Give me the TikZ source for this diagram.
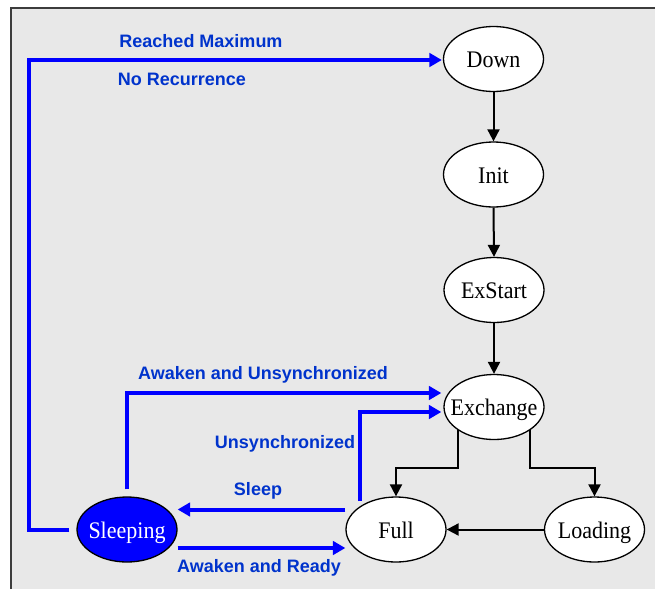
\documentclass[tikz,border=0pt]{standalone}
\usepackage{fontspec}
\setmainfont{Liberation Serif}
\newfontfamily\lblfont{Liberation Sans}
\usetikzlibrary{shapes.geometric,arrows.meta,calc}
\definecolor{bggray}{RGB}{232,232,232}
\definecolor{bordergray}{RGB}{60,60,60}
\definecolor{lblblue}{RGB}{0,51,204}
\newcommand\stname[1]{\makebox[0pt]{\raisebox{-8.5pt}{\scalebox{1}[1.08]{#1}}}}
\tikzset{
  state/.style={ellipse, draw=black, line width=1.3pt, fill=white, inner sep=0pt,
    text height=0pt, text depth=0pt,
    minimum width=100pt, minimum height=65pt, font=\fontsize{22}{24}\selectfont},
  sleepstate/.style={state, fill=blue, text=white},
  blk/.style={draw=black, line width=2pt, -{Triangle[length=12pt,width=12pt]}},
  blu/.style={draw=blue, line width=4pt, -{Triangle[length=12.5pt,width=13.5pt]}},
  lbl/.style={text=lblblue, font=\lblfont\bfseries\fontsize{18}{20}\selectfont, inner sep=0pt}
}
\begin{document}
\begin{tikzpicture}[x=1pt,y=-1pt]
\useasboundingbox (0,0) rectangle (655,589);
\fill[bggray] (11,8) rectangle (655,589);
\draw[bordergray, line width=1.6pt] (11,589) -- (11,8) -- (655,8);

\node[state] (Down) at (493.5,59) {\stname{Down}};
\node[state] (Init) at (493.5,174.5) {\stname{Init}};
\node[state] (ExStart) at (494,290) {\stname{ExStart}};
\node[state] (Exchange) at (494,407) {\stname{Exchange}};
\node[state] (Full) at (396,529.5) {\stname{Full}};
\node[state] (Loading) at (594.5,529.5) {\stname{Loading}};
\node[sleepstate] (Sleeping) at (127,529.5) {\stname{Sleeping}};

% black transitions
\draw[blk] (Down.south) -- (Init.north);
\draw[blk] (Init.south) -- (ExStart.north);
\draw[blk] (ExStart.south) -- (Exchange.north);
\draw[blk] (Exchange.south west) -- ($(Exchange.south west)+(0,37.5)$) -| (Full.north);
\draw[blk] (Exchange.south east) -- ($(Exchange.south east)+(0,37.5)$) -| (Loading.north);
\draw[blk] (Loading.west) -- (Full.east);

% blue transitions
\draw[blu, shorten <=7pt, shorten >=1pt] (Sleeping.west) -- (29,529.5) |- ([yshift=-1pt]Down.west);
\draw[blu, shorten <=7pt, shorten >=2pt] (Sleeping.north) |- ([yshift=14pt]Exchange.west);
\draw[blu, shorten <=5pt, shorten >=2pt] (Full.north west) |- ([yshift=-5pt]Exchange.west);
\draw[blu] ([yshift=20pt]Full.west) -- ([yshift=20pt]Sleeping.east);
\draw[blu] ([yshift=-18.5pt]Sleeping.east) -- ([yshift=-18.5pt]Full.west);

% labels
\node[lbl] (lReached) at (201,41) {Reached Maximum};
\node[lbl] (lNoRec) at (182,79) {No Recurrence};
\node[lbl] (lAwUnsync) at (263,375) {Awaken and Unsynchronized};
\node[lbl] (lUnsync) at (285,444) {Unsynchronized};
\node[lbl] (lSleep) at (258,491) {Sleep};
\node[lbl] (lAwReady) at (259,568) {Awaken and Ready};
\end{tikzpicture}
\end{document}
